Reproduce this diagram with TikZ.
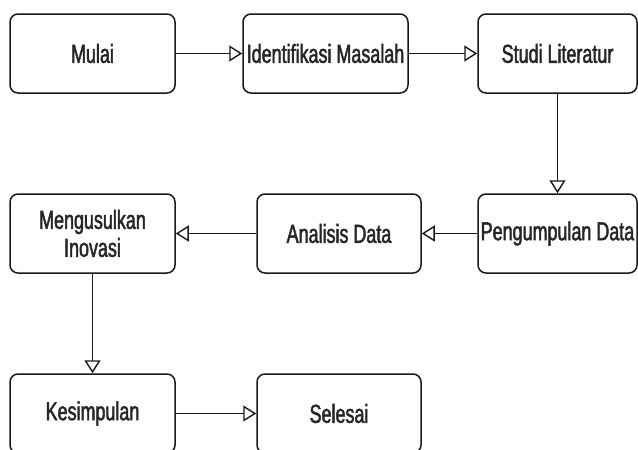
\documentclass[tikz,border=0pt]{standalone}
\usepackage{fontspec}
\setmainfont[FakeStretch=0.69,FakeBold=1.8]{Liberation Sans}
\usetikzlibrary{arrows.meta}
\begin{document}
\begin{tikzpicture}[x=1pt,y=-1pt,
  box/.style={draw=black!90, line width=1.5pt, rounded corners=8pt, minimum height=79pt,
    inner sep=0pt, align=center, font=\fontsize{26}{28}\selectfont, text=black!85},
  flow/.style={draw=black!90, line width=1.4pt,
    -{Triangle[open, length=13pt, width=16pt, fill=white]}}]
\useasboundingbox (0,0) rectangle (638,450);
\fill[white] (0,0) rectangle (638,450);
\node[box, minimum width=165pt] (mulai) at (92.5,53.5) {Mulai};
\node[box, minimum width=165pt] (ident) at (325.5,53.5) {Identifikasi Masalah};
\node[box, minimum width=159pt] (studi) at (557.5,53.5) {Studi Literatur};
\node[box, minimum width=159pt] (pengum) at (557.5,233.5) {Pengumpulan Data};
\node[box, minimum width=164pt] (analisis) at (339,233.5) {Analisis Data};
\node[box, minimum width=165pt, text width=165pt] (usul) at (92.5,233.5) {Mengusulkan\\Inovasi};
\node[box, minimum width=165pt] (kesim) at (92.5,413.5) {Kesimpulan};
\node[box, minimum width=164pt] (selesai) at (339,413.5) {Selesai};
\draw[flow] (mulai) -- (ident);
\draw[flow] (ident) -- (studi);
\draw[flow] (studi) -- (pengum);
\draw[flow] (pengum) -- (analisis);
\draw[flow] (analisis) -- (usul);
\draw[flow] (usul) -- (kesim);
\draw[flow] (kesim) -- (selesai);
\end{tikzpicture}
\end{document}
